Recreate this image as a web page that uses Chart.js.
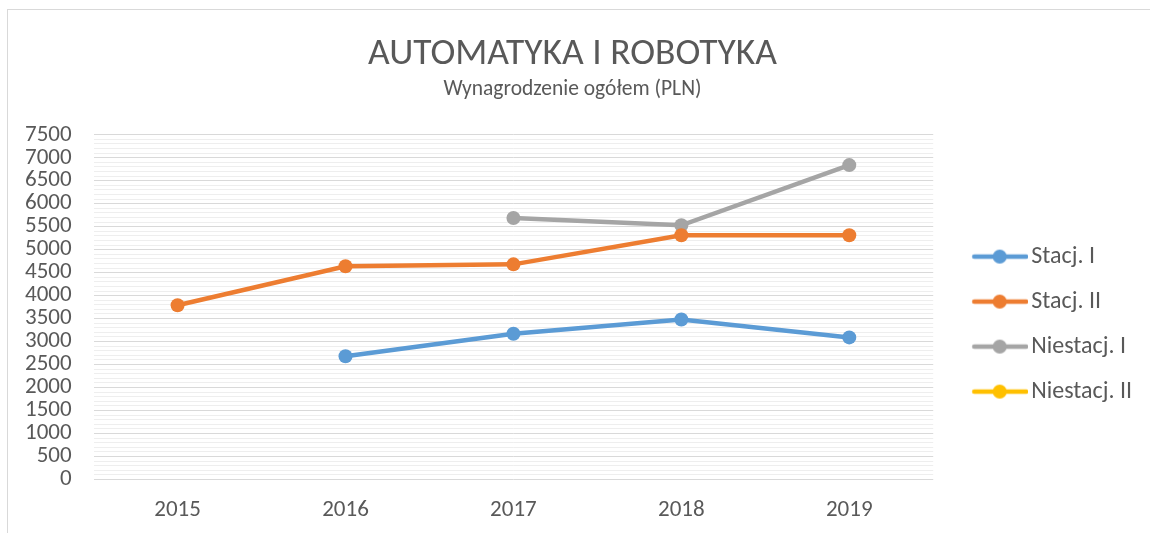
<!DOCTYPE html>
<html>
<head>
<meta charset="utf-8">
<script src="https://cdn.jsdelivr.net/npm/chart.js@4.4.3/dist/chart.umd.min.js"></script>
<style>
  html, body { margin: 0; padding: 0; overflow: hidden; background: #fff; }
  #frame { position: absolute; left: 7px; top: 9px; width: 1200px; height: 600px; border: 1px solid #d9d9d9; }
  #wrap { position: absolute; left: 0; top: 0; width: 1150px; height: 533px; }
</style>
</head>
<body>
<div id="frame"></div>
<div id="wrap"><canvas id="chart"></canvas></div>
<script>
// data
const years = ['2015', '2016', '2017', '2018', '2019'];
const stacjI = [null, 2680, 3170, 3480, 3090];
const stacjII = [3790, 4640, 4680, 5315, 5315];
const niestacjI = [null, null, 5690, 5530, 6840];
const niestacjII = [null, null, null, null, null];
const seriesNames = ['Stacj. I', 'Stacj. II', 'Niestacj. I', 'Niestacj. II'];
const seriesColors = ['#5b9bd5', '#ed7d31', '#a5a5a5', '#ffc000'];
const yMax = 7500, yMajor = 500, yMinor = 100;

const FONT = 'Carlito, Lato, sans-serif';
const TEXT = '#595959';

// legend marker: line with a dot, drawn as a small canvas
function legendIcon(color) {
  const c = document.createElement('canvas');
  c.width = 83; c.height = 16;
  const g = c.getContext('2d');
  g.strokeStyle = color;
  g.lineWidth = 4.5;
  g.lineCap = 'round';
  g.beginPath();
  g.moveTo(29, 8); g.lineTo(81, 8);
  g.stroke();
  g.fillStyle = color;
  g.beginPath();
  g.arc(54.5, 8, 7, 0, Math.PI * 2);
  g.fill();
  return c;
}

const allSeries = [stacjI, stacjII, niestacjI, niestacjII];
const datasets = allSeries.map((vals, i) => ({
  label: seriesNames[i],
  data: vals,
  borderColor: seriesColors[i],
  backgroundColor: seriesColors[i],
  borderWidth: 4.5,
  pointRadius: 7,
  pointHoverRadius: 7,
  pointBorderWidth: 0,
  pointBackgroundColor: seriesColors[i],
  tension: 0,
  spanGaps: false,
  _icon: legendIcon(seriesColors[i])
}));

new Chart(document.getElementById('chart'), {
  type: 'line',
  data: { labels: years, datasets },
  options: {
    responsive: true,
    maintainAspectRatio: false,
    animation: false,
    layout: { padding: { left: 3, right: 8, top: 0, bottom: -8 } },
    plugins: {
      title: {
        display: true,
        text: 'AUTOMATYKA I ROBOTYKA',
        color: TEXT,
        font: { family: FONT, size: 37.5, weight: 'normal' },
        padding: { top: 32, bottom: 0 }
      },
      subtitle: {
        display: true,
        text: 'Wynagrodzenie ogółem (PLN)',
        color: TEXT,
        font: { family: FONT, size: 21.5, weight: 'normal' },
        padding: { top: 0, bottom: 32 }
      },
      legend: {
        position: 'right',
        fullSize: false,
        // empty title only nudges the legend items down a bit
        title: { display: true, text: ' ', font: { size: 10 }, padding: { top: 22, bottom: 0 } },
        labels: {
          color: TEXT,
          font: { family: FONT, size: 24 },
          usePointStyle: true,
          pointStyleWidth: 65,
          padding: 21,
          generateLabels(chart) {
            return chart.data.datasets.map((ds, i) => ({
              text: ds.label,
              fontColor: TEXT,
              pointStyle: ds._icon,
              datasetIndex: i,
              hidden: false,
              lineWidth: 0
            }));
          }
        }
      },
      tooltip: { enabled: false }
    },
    scales: {
      x: {
        offset: true,
        grid: { display: false, drawTicks: false },
        border: { display: false },
        ticks: { color: TEXT, font: { family: FONT, size: 23 }, padding: 17 }
      },
      y: {
        min: 0,
        max: yMax,
        border: { display: false },
        grid: {
          drawTicks: false,
          color: ctx => (ctx.tick && ctx.tick.value % yMajor === 0) ? '#d9d9d9' : '#eeeeee',
          lineWidth: 1
        },
        ticks: {
          stepSize: yMinor,
          autoSkip: false,
          color: TEXT,
          font: { family: FONT, size: 23 },
          padding: 22,
          callback: v => (v % yMajor === 0 ? String(v) : '')
        }
      }
    }
  }
});
</script>
</body>
</html>
